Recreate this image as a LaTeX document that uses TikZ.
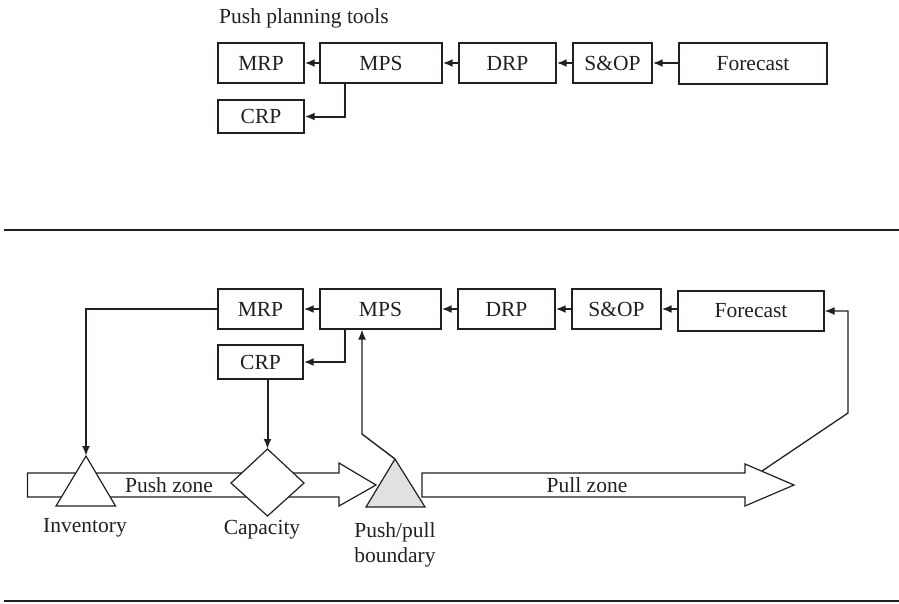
\documentclass[tikz,border=0pt]{standalone}
\usepackage{fontspec}
\setmainfont{Liberation Serif}
\usetikzlibrary{arrows.meta}
\definecolor{ink}{HTML}{231F20}
\definecolor{shade}{HTML}{E1E1E1}
\tikzset{
  box/.style={draw=ink, line width=1.3pt, inner sep=0pt, text=ink},
  arr/.style={draw=ink, line width=2pt, -{Latex[length=10pt,width=8pt]}},
  zone/.style={draw=ink, line width=1.2pt, fill=white, line join=miter},
  lbl/.style={text=ink, inner sep=0pt},
}
\begin{document}
\begin{tikzpicture}[x=1pt, y=-1pt, font=\fontsize{21.5}{25}\selectfont]
\useasboundingbox (0,0) rectangle (899,603);

% ---------- upper panel: push planning tools ----------
\node[lbl, anchor=base west] (title) at (219,23) {Push planning tools};

\node[box, minimum width=86pt,  minimum height=40pt] (tMRP) at (261,63)    {MRP};
\node[box, minimum width=122pt, minimum height=40pt] (tMPS) at (381,63)    {MPS};
\node[box, minimum width=97pt,  minimum height=40pt] (tDRP) at (507.5,63)  {DRP};
\node[box, minimum width=79pt,  minimum height=40pt] (tSOP) at (612.5,63)  {S\&OP};
\node[box, minimum width=148pt, minimum height=41pt] (tFC)  at (753,63.5)  {Forecast};
\node[box, minimum width=86pt,  minimum height=33pt] (tCRP) at (261,116.5) {CRP};

\draw[arr] (tMPS.west) -- (tMRP.east);
\draw[arr] (tDRP.west) -- (tMPS.east);
\draw[arr] (tFC.west |- tSOP.west) -- (tSOP.east);
\draw[arr] (tSOP.west) -- (tDRP.east);
\draw[arr] ([xshift=-36pt]tMPS.south) |- (tCRP.east);

% separating rule
\draw[ink, line width=1.5pt] (4,230) -- (899,230);

% ---------- lower panel: push and pull zones ----------
\node[box, minimum width=85pt,  minimum height=40pt] (bMRP) at (260.5,309) {MRP};
\node[box, minimum width=121pt, minimum height=40pt] (bMPS) at (380.5,309) {MPS};
\node[box, minimum width=97pt,  minimum height=40pt] (bDRP) at (506.5,309) {DRP};
\node[box, minimum width=89pt,  minimum height=40pt] (bSOP) at (616.5,309) {S\&OP};
\node[box, minimum width=146pt, minimum height=40pt] (bFC)  at (751,311)   {Forecast};
\node[box, minimum width=85pt,  minimum height=34pt] (bCRP) at (260.5,362) {CRP};

\draw[arr] (bMPS.west) -- (bMRP.east);
\draw[arr] (bDRP.west) -- (bMPS.east);
\draw[arr] (bSOP.west) -- (bDRP.east);
\draw[arr] (bFC.west |- bSOP.west) -- (bSOP.east);
\draw[arr] ([xshift=-35.5pt]bMPS.south) |- (bCRP.east);

% zone arrows
\draw[zone] (27.5,473) -- (339,473) -- (339,463) -- (376,485) -- (339,506)
            -- (339,497) -- (27.5,497) -- cycle;
\draw[zone] (422,473) -- (745,473) -- (745,464) -- (794,485) -- (745,506)
            -- (745,497) -- (422,497) -- cycle;
\node[lbl] (pushzone) at (169,485.5) {Push zone};
\node[lbl] (pullzone) at (587,485.5) {Pull zone};

% inventory, capacity and the push/pull boundary
\draw[zone] (86,456) -- (115.5,506) -- (56,506) -- cycle;
\coordinate (invTop) at (86,456);
\draw[zone] (267.5,449) -- (304,483) -- (267.5,516) -- (231,483) -- cycle;
\coordinate (capTop) at (267.5,449);
\draw[zone, fill=shade] (395,459) -- (425,507) -- (366,507) -- cycle;
\coordinate (ppTop) at (395,459);
\coordinate (pullHead) at (762,471);

\node[lbl, anchor=base] (inv) at (85,532) {Inventory};
\node[lbl, anchor=base] (cap) at (262,534) {Capacity};
\node[lbl, anchor=base] (ppb) at (395,537) {Push/pull};
\node[lbl, anchor=base] (ppb2) at (395,562) {boundary};

% feedback connectors
\draw[arr] (bMRP.west) -| (invTop);
\draw[arr] ([xshift=7pt]bCRP.south) -- (capTop);
\draw[arr, line width=1.4pt] (ppTop) -- ++(-33,-25) -- ([xshift=-18.5pt]bMPS.south);
\draw[arr, line width=1.3pt] (pullHead) -- (848,413) -- (848,311) -- (bFC.east);

% closing rule
\draw[ink, line width=2.5pt] (4,601) -- (899,601);
\end{tikzpicture}
\end{document}
